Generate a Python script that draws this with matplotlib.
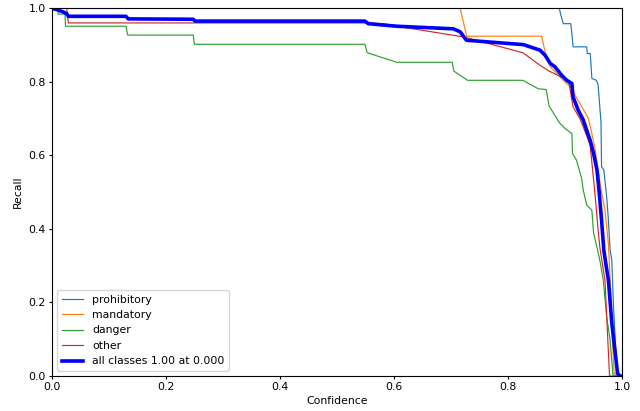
import matplotlib
matplotlib.use("Agg")
import matplotlib.pyplot as plt

# per-class recall vs confidence
prohibitory_x = [0.0, 0.890, 0.892, 0.897, 0.910, 0.912, 0.914, 0.938, 0.939, 0.944, 0.945, 0.947,
                 0.955, 0.958, 0.960, 0.963, 0.964, 0.968, 0.973, 0.976, 0.979, 0.982, 0.985, 0.988,
                 0.991, 1.0]
prohibitory_y = [1.0, 1.0, 0.985, 0.958, 0.958, 0.93, 0.895, 0.895, 0.877, 0.877, 0.859, 0.809,
                 0.804, 0.791, 0.75, 0.69, 0.569, 0.56, 0.487, 0.424, 0.342, 0.315, 0.188, 0.098,
                 0.008, 0.0]

mandatory_x = [0.0, 0.716, 0.7275, 0.859, 0.865, 0.874, 0.891, 0.909, 0.926, 0.941, 0.947, 0.953,
               0.958, 0.964, 0.970, 0.976, 0.980, 0.983, 0.986, 1.0]
mandatory_y = [1.0, 1.0, 0.924, 0.924, 0.881, 0.841, 0.813, 0.786, 0.741, 0.700, 0.659, 0.614,
               0.56, 0.50, 0.45, 0.36, 0.234, 0.098, 0.008, 0.0]

danger_x = [0.0, 0.011, 0.011, 0.023, 0.024, 0.130, 0.133, 0.248, 0.250, 0.549, 0.553, 0.605,
            0.702, 0.705, 0.729, 0.826, 0.853, 0.867, 0.872, 0.882, 0.891, 0.900, 0.912, 0.913,
            0.920, 0.929, 0.932, 0.938, 0.947, 0.950, 0.956, 0.961, 0.967, 0.973, 0.979, 0.984, 1.0]
danger_y = [1.0, 1.0, 0.984, 0.984, 0.951, 0.951, 0.927, 0.927, 0.902, 0.902, 0.879, 0.853,
            0.853, 0.829, 0.804, 0.804, 0.781, 0.779, 0.734, 0.709, 0.687, 0.673, 0.659, 0.605,
            0.587, 0.538, 0.505, 0.465, 0.451, 0.389, 0.35, 0.315, 0.261, 0.161, 0.098, 0.003, 0.0]

other_x = [0.0, 0.026, 0.029, 0.552, 0.581, 0.605, 0.722, 0.826, 0.856, 0.872, 0.891, 0.906,
           0.914, 0.926, 0.932, 0.944, 0.953, 0.958, 0.961, 0.970, 0.978, 1.0]
other_y = [1.0, 1.0, 0.960, 0.960, 0.958, 0.951, 0.922, 0.879, 0.845, 0.829, 0.815, 0.804,
           0.732, 0.700, 0.677, 0.628, 0.487, 0.397, 0.35, 0.261, 0.0, 0.0]

all_x = [0.0, 0.011, 0.020, 0.026, 0.029, 0.130, 0.134, 0.248, 0.251, 0.549, 0.555, 0.605,
         0.704, 0.716, 0.727, 0.827, 0.856, 0.865, 0.874, 0.882, 0.894, 0.903, 0.912, 0.914,
         0.923, 0.932, 0.938, 0.944, 0.950, 0.956, 0.960, 0.964, 0.968, 0.972, 0.976, 0.982,
         0.988, 0.992, 0.996, 1.0]
all_y = [1.0, 0.995, 0.99, 0.985, 0.978, 0.978, 0.971, 0.970, 0.965, 0.965, 0.958, 0.951,
         0.944, 0.936, 0.913, 0.901, 0.886, 0.872, 0.850, 0.841, 0.818, 0.804, 0.795, 0.759,
         0.723, 0.696, 0.668, 0.641, 0.605, 0.560, 0.497, 0.424, 0.342, 0.30, 0.261, 0.144,
         0.063, 0.008, 0.0, 0.0]

classes = ["prohibitory", "mandatory", "danger", "other"]
curves = [(prohibitory_x, prohibitory_y), (mandatory_x, mandatory_y),
          (danger_x, danger_y), (other_x, other_y)]

plt.rcParams["font.size"] = 7.8

fig, ax = plt.subplots(figsize=(6.4, 4.11), dpi=100)
fig.subplots_adjust(left=0.081, right=0.972, top=0.98, bottom=0.085)

for name, (x, y) in zip(classes, curves):
    ax.plot(x, y, linewidth=0.85, label=name)

ax.plot(all_x, all_y, linewidth=2.6, color="blue", label="all classes 1.00 at 0.000")

ax.set_xlabel("Confidence", labelpad=3)
ax.set_ylabel("Recall", labelpad=4)
ax.set_xlim(0, 1)
ax.set_ylim(0, 1)
ax.tick_params(length=2.5, pad=2)
ax.legend(loc="lower left", fontsize=7.8)

fig.savefig("out.png", dpi=100)
